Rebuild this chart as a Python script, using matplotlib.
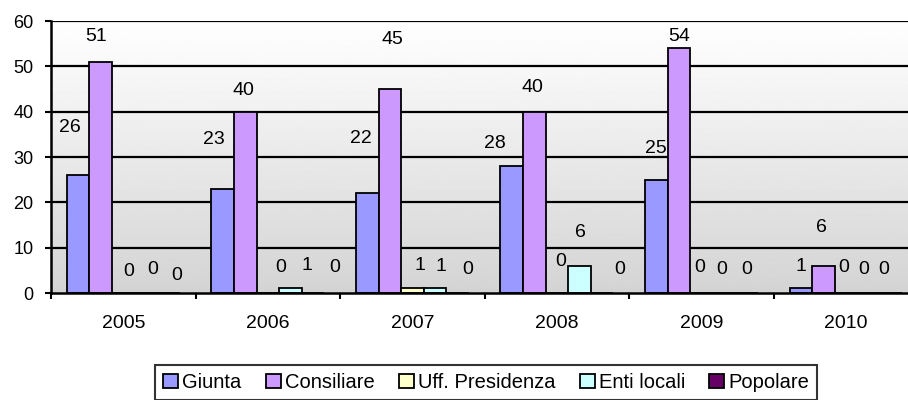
#!/usr/bin/env python

# Grouped bar chart of proposals by origin, 2005-2010

import numpy

import matplotlib
from matplotlib.backends.backend_agg import \
                 FigureCanvasAgg as FigureCanvas
from matplotlib.figure import Figure

# Data
years=['2005','2006','2007','2008','2009','2010']
giunta=[26,23,22,28,25,1]
consiliare=[51,40,45,40,54,6]
uff_presidenza=[0,0,1,0,0,0]
enti_locali=[0,1,1,6,0,0]
popolare=[0,0,0,0,0,0]

series=[('Giunta',giunta,'#9999FF'),
        ('Consiliare',consiliare,'#CC99FF'),
        ('Uff. Presidenza',uff_presidenza,'#FFFFCC'),
        ('Enti locali',enti_locali,'#CCFFFF'),
        ('Popolare',popolare,'#660066')]

# Label nudges (pixels, from top centre of each bar) - the
#  original labels were hand placed so they wander about
nudge=[[(-8,48),(-9,49),(-6,55),(-17,23),(0,31),(0,22)],
       [(-5,25),(-2,21),(3,50),(-2,24),(0,12),(-2,38)],
       [(5,22),(13,26),(8,23),(4,31),(-2,25),(-2,25)],
       [(7,23),(17,23),(6,22),(1,33),(-2,24),(-5,23)],
       [(8,18),(22,25),(10,23),(18,23),(0,24),(-7,23)]]

fig=Figure(figsize=(9.08,4.0),  # Width, Height (inches)
           dpi=100,
           facecolor='white',
           edgecolor=None,
           linewidth=0.0,
           frameon=True)
canvas=FigureCanvas(fig)
font = {'family' : 'sans-serif',
        'sans-serif' : 'Liberation Sans',
        'weight' : 'normal',
        'size'   : 13}
matplotlib.rc('font', **font)

# Plot area runs off the right hand edge of the picture
ax=fig.add_axes([0.0562,0.2675,0.955,0.68])
ax.set_xlim(-0.5,5.5)
ax.set_ylim(0,60)

# Grey gradient background
grad=numpy.linspace(0.83,1.0,256).reshape(-1,1)
ax.imshow(grad,cmap='gray',vmin=0,vmax=1,aspect='auto',
          extent=[0,1,1,0],transform=ax.transAxes,zorder=0)

# Gridlines
for yv in range(10,61,10):
    ax.axhline(yv,color='black',linewidth=1.6,zorder=1)

# Bars
width=0.156
x=numpy.arange(len(years))
for idx,(name,vals,col) in enumerate(series):
    xp=x+(idx-2)*width
    ax.bar(xp,vals,width=width,color=col,edgecolor='black',
           linewidth=1.3,label=name,zorder=2)
    for j in range(len(vals)):
        ax.annotate('%d' % vals[j],xy=(xp[j],vals[j]),
                    xytext=nudge[idx][j],textcoords='offset pixels',
                    ha='center',va='center',fontsize=14,zorder=3)

# Axes decoration
for side in ('right','top'):
    ax.spines[side].set_visible(False)
for side in ('left','bottom'):
    ax.spines[side].set_linewidth(1.8)
    ax.spines[side].set_zorder(4)
ax.set_yticks(range(0,61,10))
ax.tick_params(axis='y',direction='out',length=4.5,width=1.5,pad=8,
               labelsize=13)
ax.set_xticks(x)
ax.set_xticklabels(years)
ax.tick_params(axis='x',which='major',length=0,pad=16,labelsize=14)
ax.set_xticks(numpy.arange(-0.5,5.6,1.0),minor=True)
ax.tick_params(axis='x',which='minor',direction='out',length=4.5,
               width=1.5)

# Legend along the bottom
leg=fig.legend(loc='upper left',bbox_to_anchor=(0.171,0.0875),
               ncol=5,fontsize=14.5,frameon=True,fancybox=False,
               edgecolor='black',handlelength=0.75,handleheight=0.75,
               handletextpad=0.2,columnspacing=1.2,borderpad=0.4,
               borderaxespad=0)
leg.get_frame().set_linewidth(1.5)
for p in leg.get_patches():
    p.set_linewidth(1.3)

fig.savefig('out.png')
